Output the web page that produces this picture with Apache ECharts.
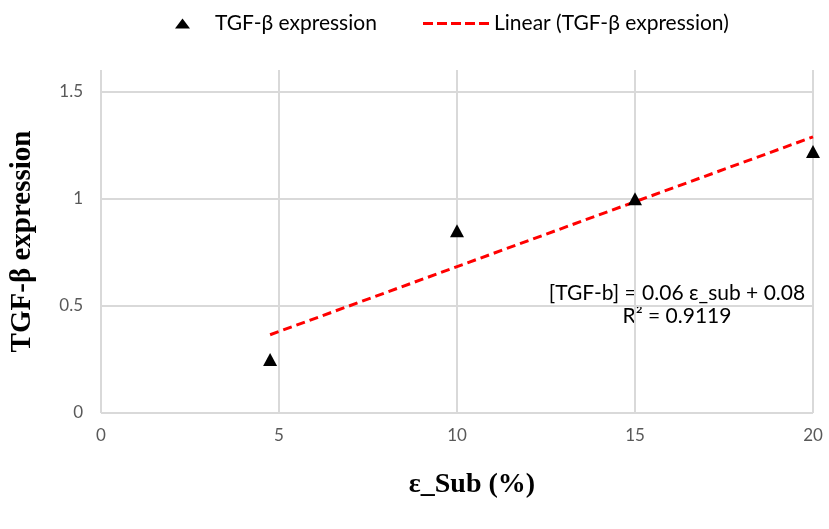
<!DOCTYPE html>
<html>
<head>
<meta charset="utf-8">
<script src="https://cdn.jsdelivr.net/npm/echarts@6/dist/echarts.min.js"></script>
<style>html,body{margin:0;padding:0;background:#fff}#c{width:829px;height:529px}</style>
</head>
<body>
<div id="c"></div>
<script>
var seriesName = 'TGF-β expression';
var trendName = 'Linear (TGF-β expression)';
var strainX = [4.75, 10, 15, 20];
var tgfY = [0.25, 0.85, 1.0, 1.22];
var trendX = [4.75, 20];
var trendY = [0.365, 1.288];
var xTicks = [0, 5, 10, 15, 20];
var yTicks = [0, 0.5, 1, 1.5];
var eqText = '[TGF-b] = 0.06 ε_sub + 0.08';
var r2Text = 'R² = 0.9119';

var chart = echarts.init(document.getElementById('c'), null, {renderer: 'canvas'});
var pts = strainX.map(function (x, i) { return [x, tgfY[i]]; });
var tr = trendX.map(function (x, i) { return [x, trendY[i]]; });
var gridColor = '#d9d9d9';
var dashIcon = 'path://M0,0h10v3h-10z M14,0h10v3h-10z M28,0h10v3h-10z M42,0h10v3h-10z M56,0h10v3h-10z';
chart.setOption({
  animation: false,
  backgroundColor: '#ffffff',
  legend: [{
    data: [{name: seriesName, icon: 'triangle'}],
    left: 170, top: 8,
    itemWidth: 15, itemHeight: 10,
    textStyle: {fontFamily: 'Lato', fontSize: 21, color: '#000', padding: [0, 0, 0, 20]}
  }, {
    data: [{name: trendName, icon: dashIcon}],
    left: 418, top: 8,
    itemWidth: 66, itemHeight: 3,
    itemStyle: {color: '#ff0000'},
    textStyle: {fontFamily: 'Lato', fontSize: 21, color: '#000', padding: [0, 0, 0, 0]}
  }],
  grid: {left: 98, right: 16, top: 70, bottom: 116, containLabel: false},
  xAxis: {
    type: 'value', min: 0, max: 20, interval: 5,
    axisLine: {show: false},
    axisTick: {show: false},
    splitLine: {show: true, lineStyle: {color: gridColor, width: 2}},
    axisLabel: {color: '#595959', fontFamily: 'Lato', fontSize: 17, margin: 14,
      formatter: function (v) { return xTicks.indexOf(v) >= 0 ? String(v) : ''; }},
    name: 'ε_Sub (%)', nameLocation: 'middle', nameGap: 58,
    nameTextStyle: {fontFamily: 'Liberation Serif', fontWeight: 'bold', fontSize: 28, color: '#000', padding: [0, 0, 0, 30]}
  },
  yAxis: {
    type: 'value', min: 0, max: 1.6, interval: 0.5,
    axisLine: {show: false},
    axisTick: {show: false},
    splitLine: {show: true, showMaxLine: false, lineStyle: {color: gridColor, width: 2}},
    axisLabel: {color: '#595959', fontFamily: 'Lato', fontSize: 17, margin: 18,
      formatter: function (v) { return yTicks.indexOf(v) >= 0 ? String(v) : ''; }},
    name: 'TGF-β expression', nameLocation: 'middle', nameGap: 64, nameRotate: 90,
    nameTextStyle: {fontFamily: 'Liberation Serif', fontWeight: 'bold', fontSize: 29, color: '#000'}
  },
  series: [{
    name: seriesName,
    type: 'scatter',
    data: pts,
    symbol: 'triangle',
    symbolSize: [14, 13],
    itemStyle: {color: '#000', opacity: 1},
    z: 3
  }, {
    name: trendName,
    type: 'line',
    data: tr,
    symbol: 'none',
    lineStyle: {color: '#ff0000', width: 3, type: [9, 5]},
    itemStyle: {color: '#ff0000'},
    z: 2
  }],
  graphic: [{
    type: 'text', x: 677, y: 293,
    style: {text: eqText, font: '21px Lato', fill: '#000', align: 'center', verticalAlign: 'middle'}
  }, {
    type: 'text', x: 677, y: 316,
    style: {text: r2Text, font: '21px Lato', fill: '#000', align: 'center', verticalAlign: 'middle'}
  }]
});
</script>
</body>
</html>
